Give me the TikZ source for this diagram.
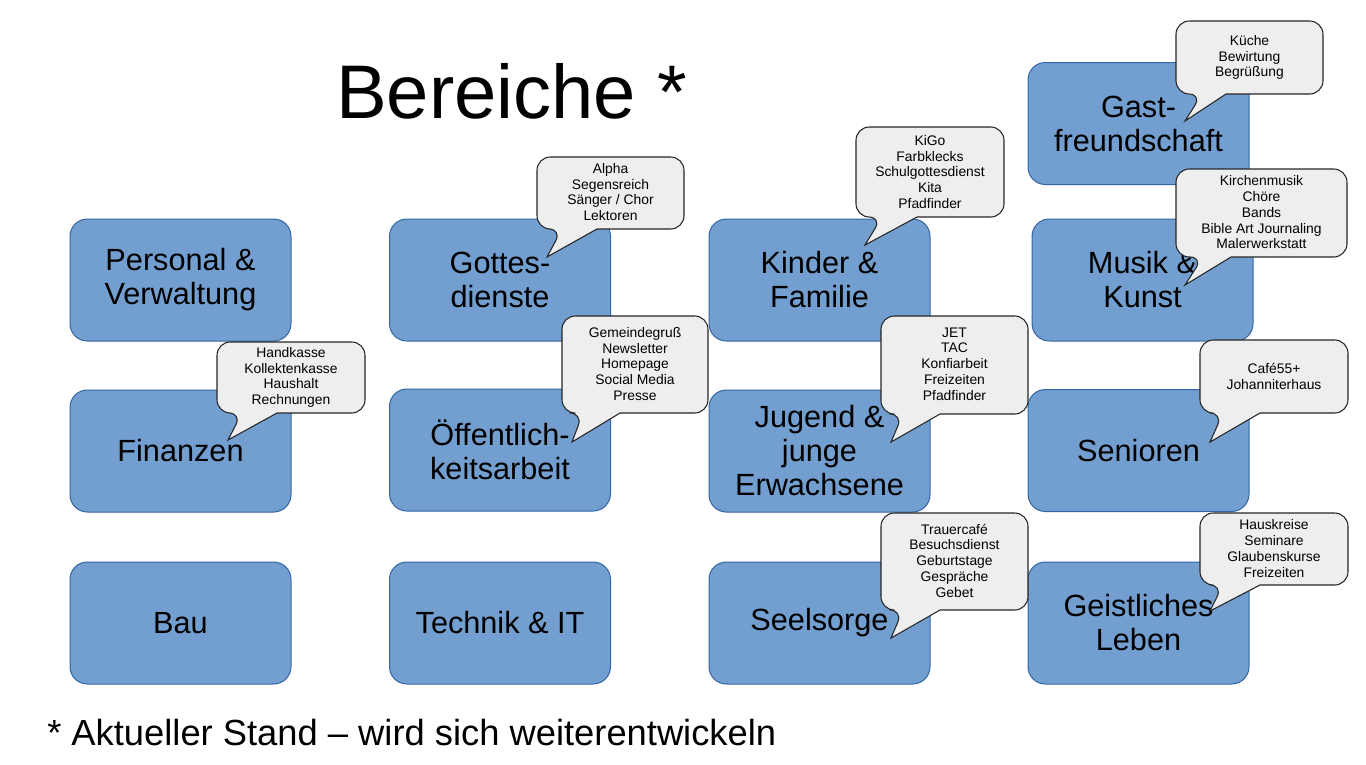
\documentclass[tikz,border=0pt]{standalone}
\usepackage{fontspec}
\setmainfont{Liberation Sans}
\usepackage{tikz}
\definecolor{areablue}{HTML}{729FCF}
\definecolor{arealine}{HTML}{3465A4}
\definecolor{bubblegray}{HTML}{EEEEEE}
\tikzset{
	area/.style={draw=arealine, line width=0.75pt, fill=areablue, rounded corners=13pt, minimum width=165.75pt, minimum height=91.5pt, align=center, inner sep=0pt, font=\fontsize{23}{25.5}\selectfont},
	bubble/.style={draw=black!85, fill=bubblegray, line width=0.8pt},
	bubbletext/.style={align=center, inner sep=0pt, font=\fontsize{10.4}{11.8}\selectfont}
}
% x1 y1 x2 y2, tail base left/right, tip
\newcommand{\callout}[8]{\draw[bubble] (#6,#4) [rounded corners=10pt] -- (#3,#4) -- (#3,#2) -- (#1,#2) -- (#1,#4) -- (#5,#4) [sharp corners] -- (#7,#8) -- cycle;}

\begin{document}
\begin{tikzpicture}[x=0.75pt,y=-0.75pt]
	\useasboundingbox (0,0) rectangle (1366,764);
	\node[anchor=base west, inner sep=0pt, font=\fontsize{57}{60}\selectfont] (titel) at (336,118) {Bereiche *};
	\node (personal) [area] at (180.5,280) {Personal \&\\Verwaltung};
	\node (gottesdienste) [area] at (500,280) {Gottes-\\dienste};
	\node (kinder) [area] at (819.5,280) {Kinder \&\\Familie};
	\node (musik) [area] at (1142.5,280) {Musik \&\\Kunst};
	\node (gast) [area] at (1138.5,123.5) {Gast-\\freundschaft};
	\node (finanzen) [area] at (180.5,451) {Finanzen};
	\node (oeffentlich) [area] at (500,450) {Öffentlich-\\keitsarbeit};
	\node (jugend) [area] at (819.5,451) {Jugend \&\\junge\\Erwachsene};
	\node (senioren) [area] at (1138.5,450.5) {Senioren};
	\node (bau) [area] at (180.5,623) {Bau};
	\node (technik) [area] at (500,623) {Technik \& IT};
	\node (seelsorge) [area] at (819.5,623) {Seelsorge};
	\node (geistlich) [area] at (1138.5,623) {Geistliches\\Leben};
	% sprechblasen
	\callout{1176}{21}{1323}{94}{1202}{1226}{1185}{121}
	\node (gastliste) [bubbletext] at (1249.5,57.5) {Küche\\Bewirtung\\Begrüßung};
	\callout{1176}{169}{1347}{257}{1203}{1231}{1185}{285}
	\node (musikliste) [bubbletext] at (1261.5,212.5) {Kirchenmusik\\Chöre\\Bands\\Bible Art Journaling\\Malerwerkstatt};
	\callout{217}{342}{365}{413}{242}{277}{228}{440}
	\node (finanzliste) [bubbletext] at (291,377.5) {Handkasse\\Kollektenkasse\\Haushalt\\Rechnungen};
	\callout{537}{157}{684}{229}{562}{597}{547}{257}
	\node (gottesliste) [bubbletext] at (610.5,192) {Alpha\\Segensreich\\Sänger / Chor\\Lektoren};
	\callout{562}{316}{708}{413}{583}{620}{572}{442}
	\node (oeffliste) [bubbletext] at (635,364) {Gemeindegruß\\Newsletter\\Homepage\\Social Media\\Presse};
	\callout{856}{127}{1004}{217}{882}{917}{865}{245}
	\node (kinderliste) [bubbletext] at (930,172) {KiGo\\Farbklecks\\Schulgottesdienst\\Kita\\Pfadfinder};
	\callout{881}{316}{1028}{414}{903}{940}{891}{442}
	\node (jugendliste) [bubbletext] at (954.5,364) {JET\\TAC\\Konfiarbeit\\Freizeiten\\Pfadfinder};
	\callout{1200}{340}{1348}{413}{1223}{1260}{1210}{442}
	\node (seniorenliste) [bubbletext] at (1274,376.5) {Café55+\\Johanniterhaus};
	\callout{881}{513}{1028}{610}{903}{940}{891}{638}
	\node (seelsorgeliste) [bubbletext] at (954.5,560.5) {Trauercafé\\Besuchsdienst\\Geburtstage\\Gespräche\\Gebet};
	\callout{1200}{513}{1348}{585}{1223}{1260}{1210}{611}
	\node (geistlichliste) [bubbletext] at (1274,548.5) {Hauskreise\\Seminare\\Glaubenskurse\\Freizeiten};
	\node[anchor=base west, inner sep=0pt, font=\fontsize{27.25}{30}\selectfont] (stand) at (47,745) {* Aktueller Stand – wird sich weiterentwickeln};
\end{tikzpicture}
\end{document}
